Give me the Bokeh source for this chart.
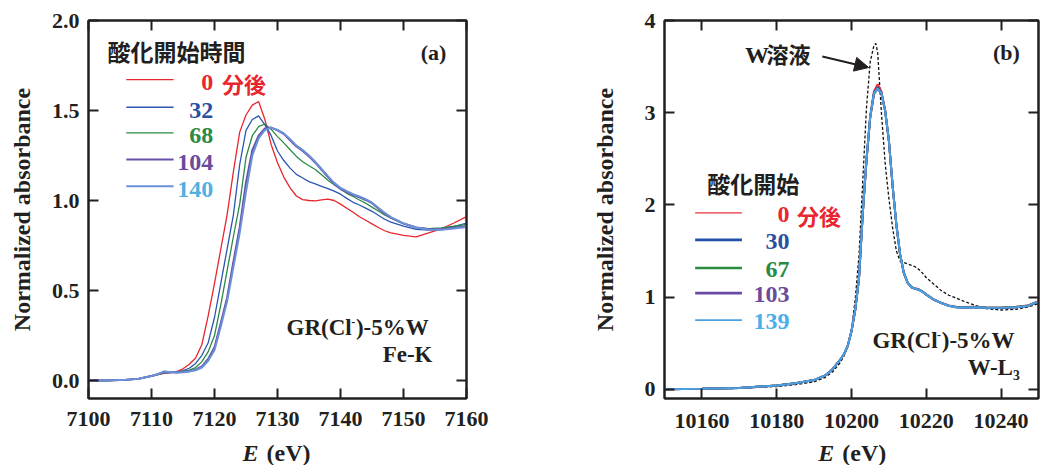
from bokeh.plotting import figure
from bokeh.models import LinearAxis, FixedTicker, Label, Arrow, NormalHead, PrintfTickFormatter, CustomLabelingPolicy
from bokeh.core.properties import value
from bokeh.layouts import row, column
from bokeh.embed import file_html
from bokeh.resources import INLINE

# ---------------- data: panel (a) Fe-K edge ----------------
E_A = [7100, 7103, 7106, 7108, 7110, 7111, 7112, 7113, 7114, 7115, 7116, 7117, 7118, 7119, 7120,
       7121, 7122, 7123, 7124, 7125, 7126, 7127, 7128, 7129, 7130, 7131, 7132, 7133, 7134, 7135,
       7136, 7137, 7138, 7139, 7140, 7141, 7142, 7143, 7144, 7145, 7146, 7147, 7148, 7150, 7152,
       7154, 7156, 7158, 7160]
A_0 = [0.000, 0.000, 0.004, 0.010, 0.025, 0.033, 0.040, 0.044, 0.050, 0.065, 0.090, 0.125, 0.200, 0.360, 0.540,
       0.730, 0.920, 1.160, 1.380, 1.475, 1.530, 1.550, 1.450, 1.310, 1.210, 1.130, 1.070, 1.025, 1.005, 1.000,
       0.998, 1.003, 1.008, 1.000, 0.980, 0.957, 0.935, 0.910, 0.890, 0.870, 0.850, 0.832, 0.820, 0.806, 0.798,
       0.820, 0.843, 0.875, 0.910]
A_32 = [0.000, 0.000, 0.004, 0.010, 0.025, 0.033, 0.042, 0.044, 0.048, 0.055, 0.068, 0.095, 0.140, 0.210, 0.350,
        0.540, 0.730, 0.920, 1.200, 1.390, 1.450, 1.470, 1.420, 1.360, 1.275, 1.222, 1.180, 1.145, 1.125, 1.105,
        1.092, 1.078, 1.066, 1.052, 1.035, 1.012, 0.990, 0.975, 0.958, 0.940, 0.918, 0.896, 0.880, 0.857, 0.840,
        0.835, 0.840, 0.855, 0.875]
A_68 = [0.000, 0.000, 0.004, 0.010, 0.025, 0.034, 0.044, 0.045, 0.047, 0.050, 0.058, 0.072, 0.105, 0.160, 0.250,
        0.420, 0.610, 0.800, 0.980, 1.240, 1.360, 1.410, 1.425, 1.395, 1.355, 1.320, 1.282, 1.245, 1.215, 1.193,
        1.172, 1.143, 1.113, 1.088, 1.063, 1.040, 1.022, 1.003, 0.985, 0.963, 0.942, 0.920, 0.902, 0.872, 0.851,
        0.843, 0.848, 0.857, 0.867]
A_104 = [0.000, 0.000, 0.004, 0.010, 0.025, 0.035, 0.048, 0.046, 0.045, 0.047, 0.052, 0.060, 0.078, 0.120, 0.185,
         0.320, 0.460, 0.660, 0.850, 1.100, 1.280, 1.360, 1.400, 1.405, 1.390, 1.370, 1.335, 1.300, 1.275, 1.245,
         1.210, 1.170, 1.130, 1.092, 1.065, 1.047, 1.030, 1.018, 1.003, 0.985, 0.955, 0.928, 0.905, 0.872, 0.850,
         0.840, 0.840, 0.848, 0.857]
A_140 = [0.000, 0.000, 0.004, 0.010, 0.025, 0.035, 0.050, 0.047, 0.045, 0.046, 0.050, 0.057, 0.072, 0.110, 0.170,
         0.300, 0.440, 0.630, 0.820, 1.050, 1.250, 1.345, 1.392, 1.405, 1.392, 1.373, 1.340, 1.305, 1.280, 1.250,
         1.215, 1.175, 1.135, 1.098, 1.070, 1.052, 1.035, 1.022, 1.008, 0.988, 0.960, 0.932, 0.908, 0.873, 0.850,
         0.838, 0.838, 0.845, 0.853]
LABELS_A = ["0", "32", "68", "104", "140"]
X_TICKS_A = [7100, 7110, 7120, 7130, 7140, 7150, 7160]
Y_TICKS_A = [0.0, 0.5, 1.0, 1.5, 2.0]

# ---------------- data: panel (b) W-L3 edge ----------------
E_B = [10150, 10160, 10170, 10180, 10185, 10190, 10193, 10195, 10197, 10198, 10199, 10200, 10201, 10202,
       10203, 10204, 10205, 10206, 10207, 10208, 10209, 10210, 10211, 10212, 10213, 10214, 10215, 10216,
       10217, 10218, 10219, 10220, 10222, 10224, 10226, 10228, 10230, 10233, 10236, 10240, 10244, 10247, 10250]
B_0 = [0.000, 0.005, 0.015, 0.040, 0.065, 0.100, 0.150, 0.220, 0.320, 0.380, 0.470, 0.630, 0.860, 1.200,
       1.900, 2.480, 2.960, 3.230, 3.310, 3.230, 3.030, 2.700, 2.200, 1.780, 1.460, 1.260, 1.160, 1.110,
       1.095, 1.085, 1.060, 1.030, 0.975, 0.940, 0.910, 0.895, 0.892, 0.895, 0.888, 0.886, 0.895, 0.908, 0.955]
B_30 = [0.000, 0.005, 0.015, 0.041, 0.066, 0.101, 0.151, 0.221, 0.322, 0.382, 0.472, 0.632, 0.862, 1.205,
        1.905, 2.485, 2.955, 3.215, 3.275, 3.215, 3.020, 2.695, 2.205, 1.785, 1.462, 1.262, 1.158, 1.108,
        1.090, 1.080, 1.058, 1.027, 0.972, 0.936, 0.906, 0.890, 0.888, 0.890, 0.884, 0.882, 0.890, 0.903, 0.950]
B_67 = [0.000, 0.005, 0.015, 0.040, 0.065, 0.100, 0.150, 0.220, 0.321, 0.381, 0.471, 0.631, 0.861, 1.202,
        1.902, 2.482, 2.950, 3.205, 3.265, 3.210, 3.018, 2.693, 2.203, 1.783, 1.461, 1.261, 1.157, 1.107,
        1.092, 1.081, 1.057, 1.026, 0.973, 0.937, 0.907, 0.891, 0.889, 0.892, 0.886, 0.884, 0.892, 0.905, 0.952]
B_103 = [0.000, 0.005, 0.015, 0.040, 0.065, 0.100, 0.150, 0.220, 0.321, 0.381, 0.471, 0.631, 0.861, 1.203,
         1.903, 2.483, 2.948, 3.200, 3.258, 3.205, 3.015, 2.692, 2.202, 1.782, 1.460, 1.260, 1.156, 1.106,
         1.089, 1.079, 1.056, 1.025, 0.971, 0.935, 0.905, 0.889, 0.887, 0.889, 0.883, 0.881, 0.889, 0.902, 0.949]
B_139 = [0.000, 0.005, 0.015, 0.041, 0.066, 0.101, 0.151, 0.221, 0.322, 0.382, 0.472, 0.632, 0.862, 1.204,
         1.904, 2.484, 2.952, 3.210, 3.262, 3.212, 3.020, 2.696, 2.204, 1.784, 1.462, 1.261, 1.158, 1.108,
         1.091, 1.080, 1.057, 1.026, 0.972, 0.936, 0.906, 0.890, 0.888, 0.891, 0.885, 0.883, 0.891, 0.904, 0.951]
E_W = [10150, 10160, 10170, 10180, 10185, 10190, 10193, 10195, 10197, 10198, 10199, 10200, 10201, 10202,
       10203, 10204, 10205, 10206, 10206.5, 10207, 10208, 10209, 10210, 10211, 10212, 10213, 10214, 10215,
       10216, 10217, 10218, 10219, 10220, 10222, 10224, 10226, 10228, 10230, 10233, 10236, 10240, 10244,
       10247, 10250]
W_SOL = [0.000, 0.003, 0.010, 0.030, 0.050, 0.080, 0.130, 0.190, 0.290, 0.360, 0.460, 0.640, 0.980, 1.450,
         2.250, 3.050, 3.550, 3.730, 3.750, 3.650, 3.000, 2.450, 2.070, 1.750, 1.500, 1.390, 1.375, 1.360,
         1.345, 1.330, 1.300, 1.260, 1.210, 1.140, 1.070, 1.020, 0.990, 0.955, 0.910, 0.875, 0.860, 0.868,
         0.890, 0.930]
LABELS_B = ["0", "30", "67", "103", "139"]
X_TICKS_B = [10160, 10180, 10200, 10220, 10240]
Y_TICKS_B = [0, 1, 2, 3, 4]

SERIF = "Liberation Serif"
CJK = "Noto Sans CJK JP"
INK = "#231f20"
H_TOTAL = 465


def make_fig(width, height, xr, yr, left, right, xticks, yticks, yfmt, ystand, xstand):
    p = figure(width=width, height=height, x_range=xr, y_range=yr, output_backend="svg",
               toolbar_location=None, min_border_left=left, min_border_right=right,
               min_border_top=20, min_border_bottom=height - 398)
    p.grid.visible = False
    p.outline_line_color = INK
    p.outline_line_width = 2
    p.background_fill_color = "white"
    p.border_fill_color = "white"
    for ax in (p.xaxis[0], p.yaxis[0]):
        ax.major_tick_in = 10
        ax.major_tick_out = 0
        ax.minor_tick_in = 0
        ax.minor_tick_out = 0
        ax.axis_line_width = 2
        ax.axis_line_color = INK
        ax.major_tick_line_width = 2
        ax.major_tick_line_color = INK
        ax.major_label_text_font = SERIF
        ax.major_label_text_font_style = "bold"
        ax.major_label_text_font_size = "22px"
        ax.major_label_text_color = INK
    p.xaxis[0].ticker = FixedTicker(ticks=xticks)
    p.yaxis[0].ticker = FixedTicker(ticks=yticks)
    p.yaxis[0].formatter = PrintfTickFormatter(format=yfmt)
    p.xaxis[0].major_label_standoff = xstand
    p.yaxis[0].major_label_standoff = 9
    p.yaxis[0].axis_label = "Normalized absorbance"
    p.yaxis[0].axis_label_text_font = SERIF
    p.yaxis[0].axis_label_text_font_style = "bold"
    p.yaxis[0].axis_label_text_font_size = "24px"
    p.yaxis[0].axis_label_text_color = INK
    p.yaxis[0].axis_label_standoff = ystand
    for loc, ticks in (("above", xticks), ("right", yticks)):
        ax = LinearAxis(ticker=FixedTicker(ticks=ticks), major_tick_in=10, major_tick_out=0,
                        minor_tick_in=0, minor_tick_out=0, major_label_text_font_size="1px",
                        major_label_policy=CustomLabelingPolicy(code="return []"),
                        major_label_standoff=0, axis_line_width=2, axis_line_color=INK,
                        major_tick_line_width=2, major_tick_line_color=INK)
        p.add_layout(ax, loc)
    return p


def xlabel_fig(width, height, xr, left, right, xsplit, gap):
    f = figure(width=width, height=height, x_range=xr, y_range=(0, 1), output_backend="svg",
               toolbar_location=None, min_border_left=left, min_border_right=right,
               min_border_top=0, min_border_bottom=0, x_axis_type=None, y_axis_type=None)
    f.outline_line_color = None
    f.border_fill_color = "white"
    yc = (H_TOTAL - 452) / height
    f.text(x=[xsplit], y=[yc], text=["E"], text_font=value(SERIF), text_font_style="bold italic",
           text_font_size="24px", text_align="right", text_baseline="middle", text_color=INK)
    f.text(x=[xsplit], y=[yc], text=["(eV)"], text_font=value(SERIF), text_font_style="bold",
           text_font_size="24px", text_align="left", text_baseline="middle", text_color=INK,
           x_offset=gap)
    return f


def txt(p, x, y, s, color=INK, font=SERIF, size="22px", align="left", style="bold", dx=0):
    p.add_layout(Label(x=x, y=y, text=s, text_color=color, text_font=font, text_font_size=size,
                       text_font_style=style, text_align=align, text_baseline="middle", x_offset=dx))


def sample_label(p, x_right, y, y_sup):
    # "GR(Cl-)-5%W" with a small raised minus
    txt(p, x_right, y, ")-5%W", size="23px", align="right")
    txt(p, x_right, y_sup, "-", size="12px", align="right", dx=-73.5)
    txt(p, x_right, y, "GR(Cl", size="23px", align="right", dx=-77.0)


# ---------------- panel (a) ----------------
HA = 438
pa = make_fig(540, HA, (7100, 7160), (-0.1, 2.0), 88, 74, X_TICKS_A, Y_TICKS_A, "%.1f", 14, 13)
cols_a_line = ["#e8262e", "#2a55b0", "#2a8a45", "#6650a8", "#6a90d8"]
cols_a_text = ["#e8262e", "#2a4fa0", "#2a8a45", "#6a4a9a", "#50b0e0"]
widths_a = [1.3, 1.3, 1.3, 2.0, 2.0]
for ys, c, w in zip([A_0, A_32, A_68, A_104, A_140], cols_a_line, widths_a):
    pa.line(E_A, ys, line_color=c, line_width=w)

leg_rows_a = [1.672, 1.518, 1.376, 1.228, 1.079]
for lab, yv, lc, tc, w in zip(LABELS_A, leg_rows_a, cols_a_line, cols_a_text, widths_a):
    pa.segment(x0=[7106.0], y0=[yv], x1=[7113.5], y1=[yv], line_color=lc, line_width=w)
    txt(pa, 7119.8, yv - 0.017, lab, color=tc, size="24px", align="right")
txt(pa, 7121.2, 1.655, "分後", color=cols_a_text[0], font=CJK, size="22px")
txt(pa, 7103.0, 1.833, "酸化開始時間", font=CJK, size="23px")
txt(pa, 7156.8, 1.822, "(a)", size="22px", align="right")
sample_label(pa, 7154.0, 0.294, 0.325)
txt(pa, 7154.6, 0.144, "Fe-K", size="23px", align="right")
la = xlabel_fig(540, H_TOTAL - HA, pa.x_range, 88, 74, 7127.0, 8)

# ---------------- panel (b) ----------------
HB = 438
pb = make_fig(502, HB, (10150, 10250), (-0.1, 4.0), 124, 0, X_TICKS_B, Y_TICKS_B, "%d", 24, 15)
pb.line(E_W, W_SOL, line_color="#111111", line_width=1.3, line_dash="3 2")
cols_b_line = ["#e8303a", "#2050a8", "#2a8a40", "#6a4aa0", "#4aa0e0"]
cols_b_text = ["#e8262e", "#2a4fa0", "#2a8a45", "#6a4a9a", "#4aaee8"]
widths_b_leg = [1.2, 2.6, 2.6, 2.6, 1.6]
for ys, c in zip([B_0, B_30, B_67, B_103, B_139], cols_b_line):
    pb.line(E_B, ys, line_color=c, line_width=2.0)

leg_rows_b = [1.913, 1.620, 1.315, 1.043, 0.750]
for lab, yv, lc, tc, w in zip(LABELS_B, leg_rows_b, cols_b_line, cols_b_text, widths_b_leg):
    pb.segment(x0=[10158.2], y0=[yv], x1=[10170.7], y1=[yv], line_color=lc, line_width=w)
    txt(pb, 10183.4, yv - 0.02, lab, color=tc, size="24px", align="right")
txt(pb, 10185.4, 1.89, "分後", color=cols_b_text[0], font=CJK, size="22px")
txt(pb, 10161.4, 2.239, "酸化開始", font=CJK, size="23px")
txt(pb, 10171.5, 3.63, "W", size="24px")
txt(pb, 10177.3, 3.652, "溶液", font=CJK, size="22px")
pb.add_layout(Arrow(end=NormalHead(size=14, fill_color=INK, line_color=INK),
                    x_start=10192.2, y_start=3.61, x_end=10204.6, y_end=3.49,
                    line_color=INK, line_width=2))
txt(pb, 10245.0, 3.652, "(b)", size="22px", align="right")
sample_label(pb, 10243.6, 0.533, 0.593)
txt(pb, 10245.0, 0.239, "W-L₃", size="23px", align="right")
lb = xlabel_fig(502, H_TOTAL - HB, pb.x_range, 124, 0, 10195.4, 8)

layout = row(column(pa, la), column(pb, lb))
open("out.html", "w").write(file_html(layout, INLINE))
